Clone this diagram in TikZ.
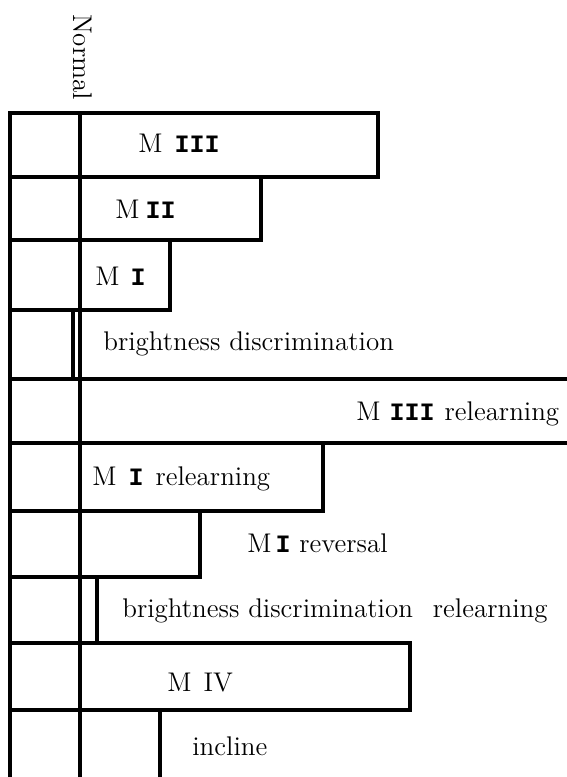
\documentclass[tikz,border=0pt]{standalone}
\usepackage{fontspec}
\newfontfamily\rnfont{Liberation Mono}
\newcommand\rnum[1]{{\rnfont\bfseries\fontsize{12.5}{15}\selectfont #1}}
\tikzset{
  bar/.style={draw=black, line width=1.8pt, line join=miter},
  lbl/.style={anchor=base west, inner sep=0pt, font=\fontsize{13.5}{16}\selectfont},
}
\begin{document}
\begin{tikzpicture}[x=0.5pt,y=-0.5pt]
\useasboundingbox (0,0) rectangle (567,777);
\clip (0,0) rectangle (567,777);
% bars (left edge 10)
\draw[bar] (10,113) rectangle (378,177);
\draw[bar] (10,177) rectangle (261,240);
\draw[bar] (10,240) rectangle (170,310);
\draw[bar] (10,310) rectangle (73,379);
\draw[bar] (10,379) rectangle (620,443);
\draw[bar] (10,443) rectangle (323,511);
\draw[bar] (10,511) rectangle (200,577);
\draw[bar] (10,577) rectangle (97,643);
\draw[bar] (10,643) rectangle (410,710);
\draw[bar] (10,710) rectangle (160,820);
% normal line
\coordinate (ntop) at (80,113);
\coordinate (nbot) at (80,820);
\draw[line width=1.8pt] (ntop) -- (nbot);
\node[inner sep=0pt, rotate=-90, font=\fontsize{13.5}{16}\selectfont] (normal) at (83,57) {Normal};
% labels
\node[lbl] (l1) at (138,152) {M\hspace{6pt}\rnum{III}};
\node[lbl] (l2) at (115,218) {M\hspace{3pt}\rnum{II}};
\node[lbl] (l3) at (95,285) {M\hspace{5.5pt}\rnum{I}};
\node[lbl] (l4) at (103,350) {brightness discrimination};
\node[lbl] (l5) at (356,420) {M\hspace{4.5pt}\rnum{III}\hspace{5pt}relearning};
\node[lbl] (l6) at (92,485) {M\hspace{6pt}\rnum{I}\hspace{6pt}relearning};
\node[lbl] (l7) at (247,552) {M\hspace{2pt}\rnum{I} reversal};
\node[lbl] (l8) at (122,617) {brightness discrimination\hspace{10pt}relearning};
\node[lbl] (l9) at (167,691) {M\hspace{6pt}IV};
\node[lbl] (l10) at (192,755) {incline};
\end{tikzpicture}
\end{document}
